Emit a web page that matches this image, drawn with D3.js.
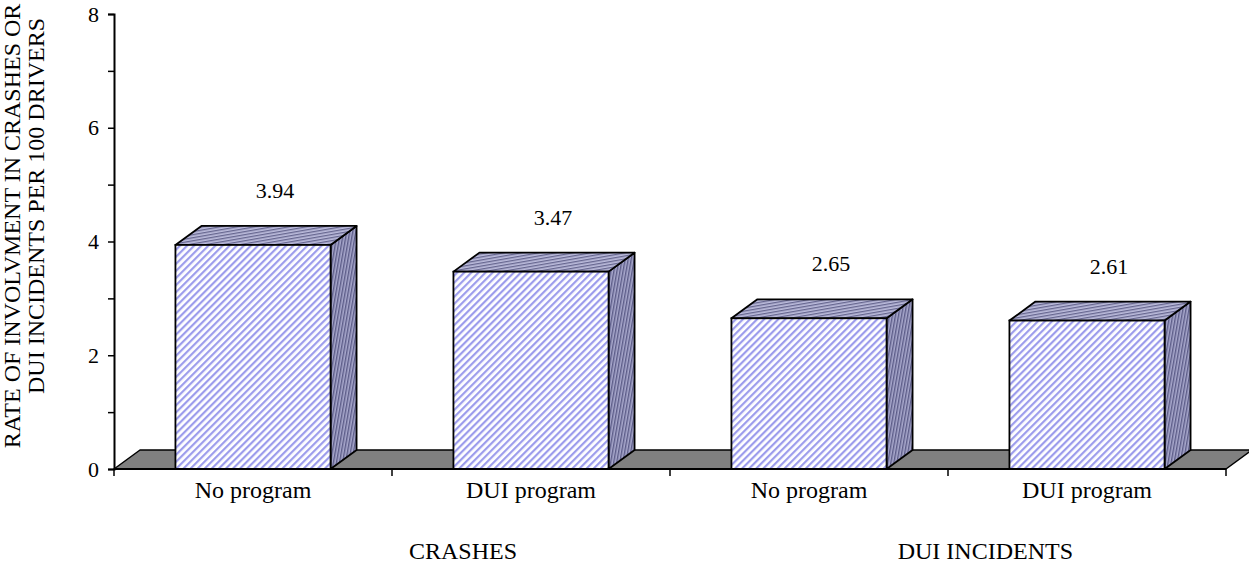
<!DOCTYPE html>
<html>
<head>
<meta charset="utf-8">
<script src="https://cdn.jsdelivr.net/npm/d3@7/dist/d3.min.js"></script>
<style>
  html, body { margin: 0; padding: 0; background: #fff; }
  svg { display: block; }
  text { font-family: "Liberation Serif", "Times New Roman", serif; fill: #000; }
</style>
</head>
<body>
<svg id="chart" width="1249" height="564"></svg>
<script>
// ---- data ----
const categories = ["No program", "DUI program", "No program", "DUI program"];
const groups = ["CRASHES", "DUI INCIDENTS"];
const values = [3.94, 3.47, 2.65, 2.61];
const valueLabels = ["3.94", "3.47", "2.65", "2.61"];
const yTickValues = [0, 1, 2, 3, 4, 5, 6, 7, 8];
const yTickLabels = ["0", "", "2", "", "4", "", "6", "", "8"];
const yTitleLines = ["RATE OF INVOLVMENT IN CRASHES OR", "DUI INCIDENTS PER 100 DRIVERS"];

(function () {
// ---- layout ----
const mLeft = 114, mRight = 1226, mTop = 14, mBottom = 469;
const depthX = 26, depthY = -19;
const barRatio = 0.558;

const svg = d3.select("#chart");
const defs = svg.append("defs");

function stripes(id, size, angle, bg, fg, sw) {
  const p = defs.append("pattern")
    .attr("id", id).attr("patternUnits", "userSpaceOnUse")
    .attr("width", size).attr("height", size)
    .attr("patternTransform", `rotate(${angle})`);
  p.append("rect").attr("width", size).attr("height", size).attr("fill", bg);
  p.append("rect").attr("x", 0).attr("y", 0).attr("width", sw).attr("height", size).attr("fill", fg);
}
stripes("front", 5, 45, "#ffffff", "#9c9cec", 2.2);
stripes("topf", 3, 80, "#bcbcdc", "#66668f", 1.3);
stripes("side", 3, 10, "#a8a8cc", "#5c5c88", 1.4);

const x = d3.scaleBand().domain(d3.range(categories.length)).range([mLeft, mRight]).padding(0);
const y = d3.scaleLinear().domain([0, 8]).range([mBottom, mTop]);

// floor
const floorPts = [[mLeft, y(0)], [mRight, y(0)], [mRight + depthX, y(0) + depthY], [mLeft + depthX, y(0) + depthY]];
svg.append("polygon")
  .attr("points", floorPts.map(p => p.join(",")).join(" "))
  .attr("fill", "#808080").attr("stroke", "#000").attr("stroke-width", 1.5).attr("stroke-linejoin", "round");

// bars
const bw = x.bandwidth() * barRatio;
const bars = svg.append("g").selectAll("g").data(values).join("g");
bars.each(function(v, i) {
  const g = d3.select(this);
  const cx = x(i) + x.bandwidth() / 2;
  const x0 = cx - bw / 2, x1 = cx + bw / 2;
  const yt = y(v), yb = y(0);
  g.append("polygon")
    .attr("points", [[x1, yb], [x1 + depthX, yb + depthY], [x1 + depthX, yt + depthY], [x1, yt]].map(p => p.join(",")).join(" "))
    .attr("fill", "url(#side)").attr("stroke", "#000").attr("stroke-width", 1.8).attr("stroke-linejoin", "round");
  g.append("polygon")
    .attr("points", [[x0, yt], [x0 + depthX, yt + depthY], [x1 + depthX, yt + depthY], [x1, yt]].map(p => p.join(",")).join(" "))
    .attr("fill", "url(#topf)").attr("stroke", "#000").attr("stroke-width", 1.8).attr("stroke-linejoin", "round");
  g.append("rect")
    .attr("x", x0).attr("y", yt).attr("width", bw).attr("height", yb - yt)
    .attr("fill", "url(#front)").attr("stroke", "#000").attr("stroke-width", 1.8);
  g.append("text")
    .attr("x", cx + 22).attr("y", yt - 47)
    .attr("text-anchor", "middle").attr("font-size", 22)
    .text(valueLabels[i]);
});

// y axis
const yAxis = d3.axisLeft(y).tickValues(yTickValues).tickSize(6).tickPadding(9)
  .tickFormat((d, i) => yTickLabels[i]);
const gy = svg.append("g").attr("transform", `translate(${mLeft},0)`).call(yAxis);
gy.select(".domain").attr("stroke-width", 2);
gy.selectAll(".tick line").attr("stroke-width", 1.5);
gy.selectAll(".tick text").attr("font-size", 22);

// x axis
const xTicks = d3.range(categories.length + 1).map(i => mLeft + i * x.step());
const gx = svg.append("g");
gx.append("line").attr("x1", mLeft).attr("x2", mRight).attr("y1", mBottom).attr("y2", mBottom)
  .attr("stroke", "#000").attr("stroke-width", 2);
gx.selectAll("line.t").data(xTicks).join("line").attr("class", "t")
  .attr("x1", d => d).attr("x2", d => d).attr("y1", mBottom).attr("y2", mBottom + 7)
  .attr("stroke", "#000").attr("stroke-width", 1.5);
gx.selectAll("text.cat").data(categories).join("text").attr("class", "cat")
  .attr("x", (d, i) => x(i) + x.bandwidth() / 2).attr("y", 498)
  .attr("text-anchor", "middle").attr("font-size", 24).text(d => d);
gx.selectAll("text.grp").data(groups).join("text").attr("class", "grp")
  .attr("x", (d, i) => x(i * 2 + 1) + x.bandwidth() - 153).attr("y", 559)
  .attr("text-anchor", "end").attr("font-size", 24).text(d => d);

// y title (two lines, rotated)
svg.selectAll("text.yt").data(yTitleLines).join("text").attr("class", "yt")
  .attr("transform", (d, i) => `translate(${20 + i * 24},${i === 0 ? 226 : 206}) rotate(-90)`)
  .attr("text-anchor", "middle").attr("font-size", 24).text(d => d);
})();
</script>
</body>
</html>
